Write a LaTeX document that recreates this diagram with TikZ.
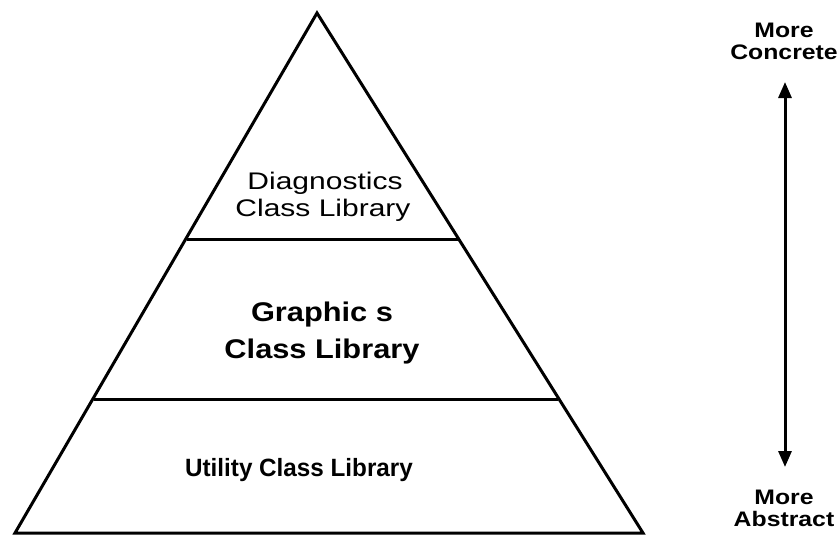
\documentclass[tikz,border=0pt]{standalone}
\usepackage{fontspec}
\setmainfont{Liberation Sans}
\newfontfamily\regfont[FakeStretch=1.25]{Liberation Sans}
\newfontfamily\grfont[FakeStretch=1.14]{Liberation Sans}
\newfontfamily\utfont[FakeStretch=0.97]{Liberation Sans}
\newfontfamily\sidefont[FakeStretch=1.18]{Liberation Sans}
\usetikzlibrary{arrows.meta}
\tikzset{
  edge/.style={line width=3pt},
  lbl/.style={font=\regfont\fontsize{24}{27}\selectfont, inner sep=0pt, align=center, anchor=base},
  glbl/.style={font=\grfont\bfseries\fontsize{27}{36}\selectfont, inner sep=0pt, align=center, anchor=base},
  ulbl/.style={font=\utfont\bfseries\fontsize{25}{30}\selectfont, inner sep=0pt, align=center, anchor=base},
  slbl/.style={font=\sidefont\bfseries\fontsize{21}{22}\selectfont, inner sep=0pt, align=center},
  dbl/.style={line width=3pt, {Triangle[width=13pt,length=16pt]}-{Triangle[width=13pt,length=16pt]}}
}
\begin{document}
\begin{tikzpicture}[x=1pt,y=-1pt]
\useasboundingbox (0,0) rectangle (838,535);
\coordinate (apex) at (317,13);
\coordinate (bl) at (15,533);
\coordinate (br) at (643,533);
\coordinate (d1l) at (187,239);
\coordinate (d1r) at (459,239);
\coordinate (d2l) at (94,399);
\coordinate (d2r) at (558,399);
\draw[edge] (bl) -- (apex) -- (br) -- cycle;
\draw[edge] (d1l) -- (d1r);
\draw[edge] (d2l) -- (d2r);
\node[lbl] (diag1) at (325,189) {Diagnostics};
\node[lbl] (diag2) at (323,216) {Class Library};
\node[glbl] (gr1) at (322,321) {Graphic s};
\node[glbl] (gr2) at (322,358) {Class Library};
\node[ulbl] (ut) at (299,476) {Utility Class Library};
\node[slbl] (top) at (784,41) {More\\Concrete};
\node[slbl] (bot) at (784,508) {More\\Abstract};
\coordinate (atop) at (785,82);
\coordinate (abot) at (785,467);
\draw[dbl] (atop) -- (abot);
\end{tikzpicture}
\end{document}
